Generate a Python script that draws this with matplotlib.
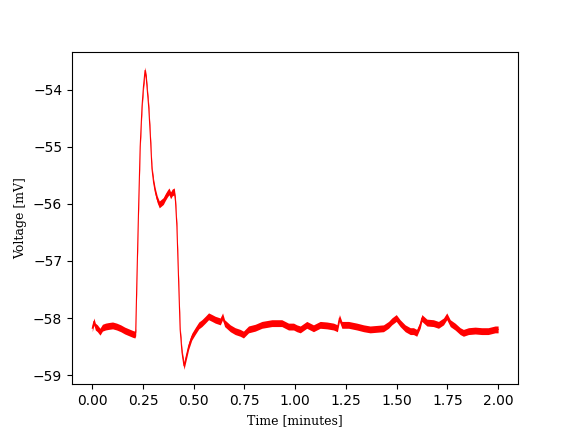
import numpy as np
import matplotlib
matplotlib.use("Agg")
import matplotlib.pyplot as plt

# Time in minutes, voltage in mV (centre of the noisy trace)
time_min = [0.000, 0.008, 0.015, 0.025, 0.038, 0.050, 0.065, 0.080, 0.100, 0.120,
            0.140, 0.160, 0.180, 0.200, 0.210, 0.214, 0.220, 0.228, 0.236, 0.245,
            0.252, 0.260, 0.266, 0.272, 0.278, 0.286, 0.294, 0.302, 0.310, 0.320,
            0.330, 0.340, 0.350, 0.360, 0.370, 0.378, 0.386, 0.394, 0.404, 0.410,
            0.417, 0.425, 0.433, 0.442, 0.452, 0.460, 0.475, 0.490, 0.507, 0.525,
            0.540, 0.557, 0.573, 0.590, 0.606, 0.631, 0.642, 0.652, 0.680, 0.704,
            0.729, 0.745, 0.770, 0.803, 0.836, 0.885, 0.934, 0.967, 0.992, 1.008,
            1.025, 1.057, 1.090, 1.123, 1.156, 1.189, 1.208, 1.218, 1.230, 1.263,
            1.304, 1.337, 1.369, 1.402, 1.435, 1.460, 1.476, 1.498, 1.517, 1.542,
            1.567, 1.583, 1.599, 1.616, 1.624, 1.649, 1.681, 1.706, 1.731, 1.747,
            1.764, 1.788, 1.813, 1.829, 1.854, 1.887, 1.919, 1.951, 1.985, 2.000]
voltage_mv = [-58.18, -58.06, -58.15, -58.18, -58.24, -58.17, -58.15, -58.14, -58.13, -58.15,
              -58.18, -58.22, -58.25, -58.28, -58.29, -58.25, -57.30, -56.10, -55.00, -54.30,
              -53.95, -53.66, -53.80, -54.05, -54.30, -54.80, -55.38, -55.62, -55.78, -55.92,
              -56.01, -55.98, -55.95, -55.88, -55.82, -55.78, -55.85, -55.80, -55.78, -55.95,
              -56.40, -57.30, -58.20, -58.60, -58.84, -58.72, -58.49, -58.33, -58.23, -58.13,
              -58.09, -58.03, -57.97, -58.00, -58.03, -58.06, -57.97, -58.09, -58.18, -58.23,
              -58.26, -58.29, -58.20, -58.17, -58.12, -58.09, -58.09, -58.15, -58.15, -58.18,
              -58.20, -58.12, -58.18, -58.12, -58.13, -58.15, -58.18, -58.00, -58.12, -58.12,
              -58.15, -58.18, -58.20, -58.19, -58.18, -58.12, -58.06, -58.00, -58.09, -58.18,
              -58.23, -58.23, -58.26, -58.12, -58.00, -58.08, -58.09, -58.12, -58.06, -57.97,
              -58.09, -58.15, -58.23, -58.26, -58.23, -58.22, -58.23, -58.23, -58.20, -58.20]
noise_half_width_mv = 0.06  # half of the peak-to-peak noise band seen in the trace

t = np.array(time_min)
v = np.array(voltage_mv)

fig, ax = plt.subplots(figsize=(5.76, 4.32), dpi=100)
ax.fill_between(t, v - noise_half_width_mv, v + noise_half_width_mv,
                color="red", linewidth=0)
ax.plot(t, v, color="red", linewidth=0.8)

ax.set_xlabel("Time [minutes]", family="DejaVu Serif", fontsize=9)
ax.set_ylabel("Voltage [mV]", family="DejaVu Serif", fontsize=9)
ax.set_xticks(np.arange(0, 2.01, 0.25))
ax.xaxis.set_major_formatter(matplotlib.ticker.FormatStrFormatter("%.2f"))

fig.savefig("out.png", dpi=100)
